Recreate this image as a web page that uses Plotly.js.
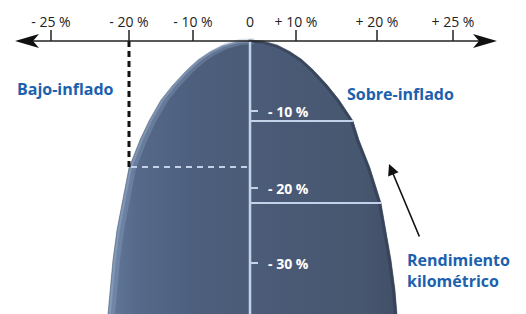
<!DOCTYPE html>
<html><head><meta charset="utf-8">
<script src="https://cdn.plot.ly/plotly-3.0.1.min.js"></script>
<style>html,body{margin:0;padding:0;background:#fff}#chart{width:526px;height:314px}</style>
</head><body><div id="chart"></div>
<script>
// Top scale (pressure deviation) – positions in diagram units, labels
const tickPos = [51, 129, 193, 250, 296, 377, 453];
const tickText = ['- 25 %', '- 20 %', '- 10 %', '0', '+ 10 %', '+ 20 %', '+ 25 %'];
// Arch outline (mileage curve)
const outlineY = [314, 290, 260, 230, 203, 168, 140, 121, 100, 85, 70, 60, 52, 46, 42, 41];
const leftX    = [108, 110, 113, 117, 122, 129, 140, 149, 161, 173, 187, 198, 210, 222, 236, 250];
const rightX   = [397, 395, 391, 386, 381, 370, 359, 353, 339, 327, 313, 302, 290, 278, 264, 250];
// Inner mileage-loss scale
const lossLabels = ['- 10 %', '- 20 %', '- 30 %'];
const lossLabelY = [111, 188, 263];
const bandY = [121, 203];
const bandRightX = [353, 381];
// Under-inflation marker
const underX = 129;
const underY = 167;
const centerX = 250;
const axisY = 41;

const traces = [];
// arch
const sx = leftX.concat(rightX.slice().reverse());
const sy = outlineY.concat(outlineY.slice().reverse());
traces.push({
  x: sx, y: sy, mode: 'lines', fill: 'toself', hoverinfo: 'skip',
  line: {color: '#3e4d65', width: 0.5},
  fillgradient: {type: 'horizontal', colorscale: [
    [0, '#62799b'], [0.1, '#56698a'], [0.3, '#4d5f7d'],
    [0.6, '#4a5a76'], [0.88, '#47576f'], [1, '#414f67']]}
});
// left edge highlight
traces.push({x: leftX.map(v => v + 4), y: outlineY, mode: 'lines', hoverinfo: 'skip',
  line: {color: 'rgba(150,172,202,0.3)', width: 6}});
traces.push({x: leftX.map(v => v + 1.5), y: outlineY, mode: 'lines', hoverinfo: 'skip',
  line: {color: 'rgba(160,182,210,0.4)', width: 2.5}});
// right edge darker rim
traces.push({x: rightX.map(v => v - 1.5), y: outlineY, mode: 'lines', hoverinfo: 'skip',
  line: {color: 'rgba(50,62,82,0.7)', width: 3}});
// center vertical line
traces.push({x: [centerX, centerX], y: [axisY, 314], mode: 'lines', hoverinfo: 'skip',
  line: {color: '#c3d2e8', width: 2.5}});
// band lines
bandY.forEach((y, i) => traces.push({x: [centerX, bandRightX[i]], y: [y, y], mode: 'lines',
  hoverinfo: 'skip', line: {color: '#c3d2e8', width: 2}}));
// small ticks at loss labels
lossLabelY.forEach(y => traces.push({x: [centerX, centerX + 8], y: [y, y], mode: 'lines',
  hoverinfo: 'skip', line: {color: '#c3d2e8', width: 2}}));
// dashed horizontal
traces.push({x: [underX + 2, centerX - 2], y: [underY, underY], mode: 'lines', hoverinfo: 'skip',
  line: {color: '#c3d2e8', width: 2, dash: '6px,5px'}});
// black dashed vertical
traces.push({x: [underX, underX], y: [axisY, underY + 1], mode: 'lines', hoverinfo: 'skip',
  line: {color: '#111', width: 3, dash: '6px,4px'}});
// top ticks
const tx = [], ty = [];
tickPos.forEach((p, i) => { if (tickText[i] !== '0') { tx.push(p, p, null); ty.push(axisY - 11, axisY, null); } });
traces.push({x: tx, y: ty, mode: 'lines', hoverinfo: 'skip', line: {color: '#222', width: 1.5}});
// axis line
traces.push({x: [30, 485], y: [axisY, axisY], mode: 'lines', hoverinfo: 'skip', line: {color: '#222', width: 1.5}});

const annotations = [];
lossLabels.forEach((t, i) => annotations.push({x: 266, y: lossLabelY[i], text: '<b>' + t + '</b>',
  showarrow: false, xanchor: 'left', yanchor: 'middle',
  font: {family: 'Open Sans', size: 14, color: '#ffffff'}}));
const blue = '#1b61ae';
annotations.push({x: 15, y: 89, text: '<b>Bajo-inflado</b>', showarrow: false, xanchor: 'left', yanchor: 'middle',
  font: {family: 'Open Sans', size: 16, color: blue}});
annotations.push({x: 345, y: 94, text: '<b>Sobre-inflado</b>', showarrow: false, xanchor: 'left', yanchor: 'middle',
  font: {family: 'Open Sans', size: 16, color: blue}});
annotations.push({x: 405, y: 270, text: '<b>Rendimiento<br>kilométrico</b>', showarrow: false, xanchor: 'left', yanchor: 'middle',
  align: 'left', font: {family: 'Open Sans', size: 16, color: blue}});
annotations.push({x: 389, y: 164, ax: 420, ay: 238, axref: 'x', ayref: 'y', text: '', showarrow: true,
  arrowhead: 2, arrowsize: 1.4, arrowwidth: 1.6, arrowcolor: '#111'});

const shapes = [
  {type: 'path', path: 'M15,41 L39,34 L33,41 L39,48 Z', fillcolor: '#111', line: {width: 0}, xref: 'x', yref: 'y'},
  {type: 'path', path: 'M497,41 L473,34 L479,41 L473,48 Z', fillcolor: '#111', line: {width: 0}, xref: 'x', yref: 'y'}
];

const layout = {
  width: 526, height: 314, margin: {l: 0, r: 0, t: 0, b: 0},
  paper_bgcolor: '#fff', plot_bgcolor: '#fff', showlegend: false,
  xaxis: {range: [0, 526], side: 'top', anchor: 'free', position: 1 - 30 / 314,
    tickvals: tickPos, ticktext: tickText, ticks: '', showline: false, showgrid: false, zeroline: false,
    tickfont: {family: 'Open Sans', size: 14, color: '#222'}, fixedrange: true},
  yaxis: {range: [314, 0], visible: false, fixedrange: true},
  annotations, shapes
};
Plotly.newPlot('chart', traces, layout, {staticPlot: true});
</script></body></html>
